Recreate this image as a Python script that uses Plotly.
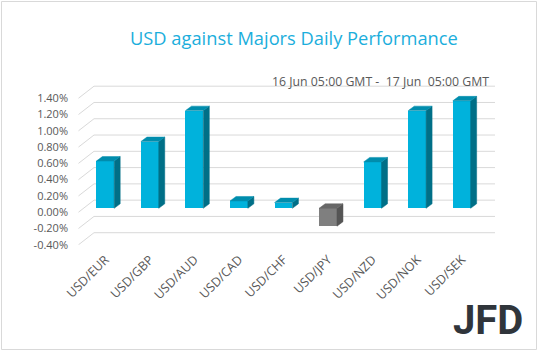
import plotly.graph_objects as go

# ---- data ----
categories = ["USD/EUR", "USD/GBP", "USD/AUD", "USD/CAD", "USD/CHF",
              "USD/JPY", "USD/NZD", "USD/NOK", "USD/SEK"]
values = [0.58, 0.82, 1.20, 0.09, 0.07, -0.22, 0.57, 1.20, 1.32]   # percent
tick_values = [-0.4, -0.2, 0.0, 0.2, 0.4, 0.6, 0.8, 1.0, 1.2, 1.4]
tick_labels = ["-0.40%", "-0.20%", "0.00%", "0.20%", "0.40%", "0.60%",
               "0.80%", "1.00%", "1.20%", "1.40%"]
title_text = "USD against Majors Daily Performance"
subtitle_text = "16 Jun 05:00 GMT -\u00a0 17 Jun\u00a0 05:00 GMT"
logo_text = "JFD"

# ---- styling / geometry ----
FIG_W, FIG_H = 538, 351
M_L, M_R, M_T, M_B = 83, 54, 80, 106
PW = FIG_W - M_L - M_R
PH = FIG_H - M_T - M_B
Y_RANGE = [-0.451, 1.576]
BAR_W = 0.40
DX, DY = 0.135, 0.055          # 3-D depth offset (category units, percent units)
LAB_OFF, BACK_OFF = -0.048, 0.10

POS_FRONT, POS_SIDE, POS_TOP = "#00B2DC", "#006F87", "#008DAD"
NEG_FRONT, NEG_SIDE, NEG_TOP = "#7F7F7F", "#555555", "#676767"
GRID = "#D9D9D9"
TXT = "#595959"


def px_x(px):
    return (px - M_L) / PW


def px_y(py):
    return (FIG_H - M_B - py) / PH


xs = list(range(len(categories)))
front_colors = [POS_FRONT if v >= 0 else NEG_FRONT for v in values]

fig = go.Figure()
fig.add_trace(go.Bar(x=xs, y=values, width=BAR_W, marker=dict(color=front_colors, line=dict(width=0)),
                     hoverinfo="skip", showlegend=False))

for i, v in zip(xs, values):
    lo, hi = min(0, v), max(0, v)
    side_c = POS_SIDE if v >= 0 else NEG_SIDE
    top_c = POS_TOP if v >= 0 else NEG_TOP
    r = i + BAR_W / 2
    l = i - BAR_W / 2
    fig.add_trace(go.Scatter(
        x=[r, r + DX, r + DX, r, r], y=[lo, lo + DY, hi + DY, hi, lo],
        fill="toself", fillcolor=side_c, mode="lines", line=dict(width=0.5, color=side_c),
        hoverinfo="skip", showlegend=False))
    fig.add_trace(go.Scatter(
        x=[l, l + DX, r + DX, r, l], y=[hi, hi + DY, hi + DY, hi, hi],
        fill="toself", fillcolor=top_c, mode="lines", line=dict(width=0.5, color=top_c),
        hoverinfo="skip", showlegend=False))

shapes = []
for t in tick_values:
    shapes.append(dict(
        type="path", xref="paper", yref="y", layer="below",
        path=f"M {px_x(78.5)},{t + LAB_OFF} L {px_x(94)},{t + BACK_OFF} L {px_x(495)},{t + BACK_OFF}",
        line=dict(color=GRID, width=1)))
shapes.append(dict(type="rect", xref="paper", yref="paper", layer="below",
                   x0=px_x(1.5), x1=px_x(536.5), y0=px_y(349.5), y1=px_y(1.5),
                   line=dict(color=GRID, width=1)))

annotations = [
    dict(text=title_text, xref="paper", yref="paper", x=px_x(293.5), y=px_y(38),
         xanchor="center", yanchor="middle", showarrow=False,
         font=dict(family="Open Sans", size=18.3, color="#1BAEDC")),
    dict(text=subtitle_text, xref="paper", yref="paper", x=px_x(491), y=px_y(81.5),
         xanchor="right", yanchor="middle", showarrow=False,
         font=dict(family="Open Sans", size=12.3, color=TXT)),
    dict(text=logo_text, xref="paper", yref="paper", x=px_x(487.5), y=px_y(320.5),
         xanchor="center", yanchor="middle", showarrow=False,
         font=dict(family="Roboto", size=40, color="#30353B", weight=700)),
]

fig.update_layout(
    width=FIG_W, height=FIG_H,
    margin=dict(l=M_L, r=M_R, t=M_T, b=M_B, pad=0),
    paper_bgcolor="white", plot_bgcolor="white",
    shapes=shapes, annotations=annotations,
    xaxis=dict(range=[-0.5, len(categories) - 0.5], tickvals=xs, ticktext=categories,
               tickangle=-45, showgrid=False, zeroline=False, showline=False,
               ticklabelstandoff=4,
               tickfont=dict(family="Open Sans", size=12.5, color=TXT), fixedrange=True),
    yaxis=dict(range=Y_RANGE, tickvals=[t + LAB_OFF for t in tick_values], ticktext=tick_labels,
               showgrid=False, zeroline=False, showline=False, ticklabelstandoff=14,
               tickfont=dict(family="Open Sans", size=11, color=TXT), fixedrange=True),
    bargap=0,
)

fig.write_html("out.html")
